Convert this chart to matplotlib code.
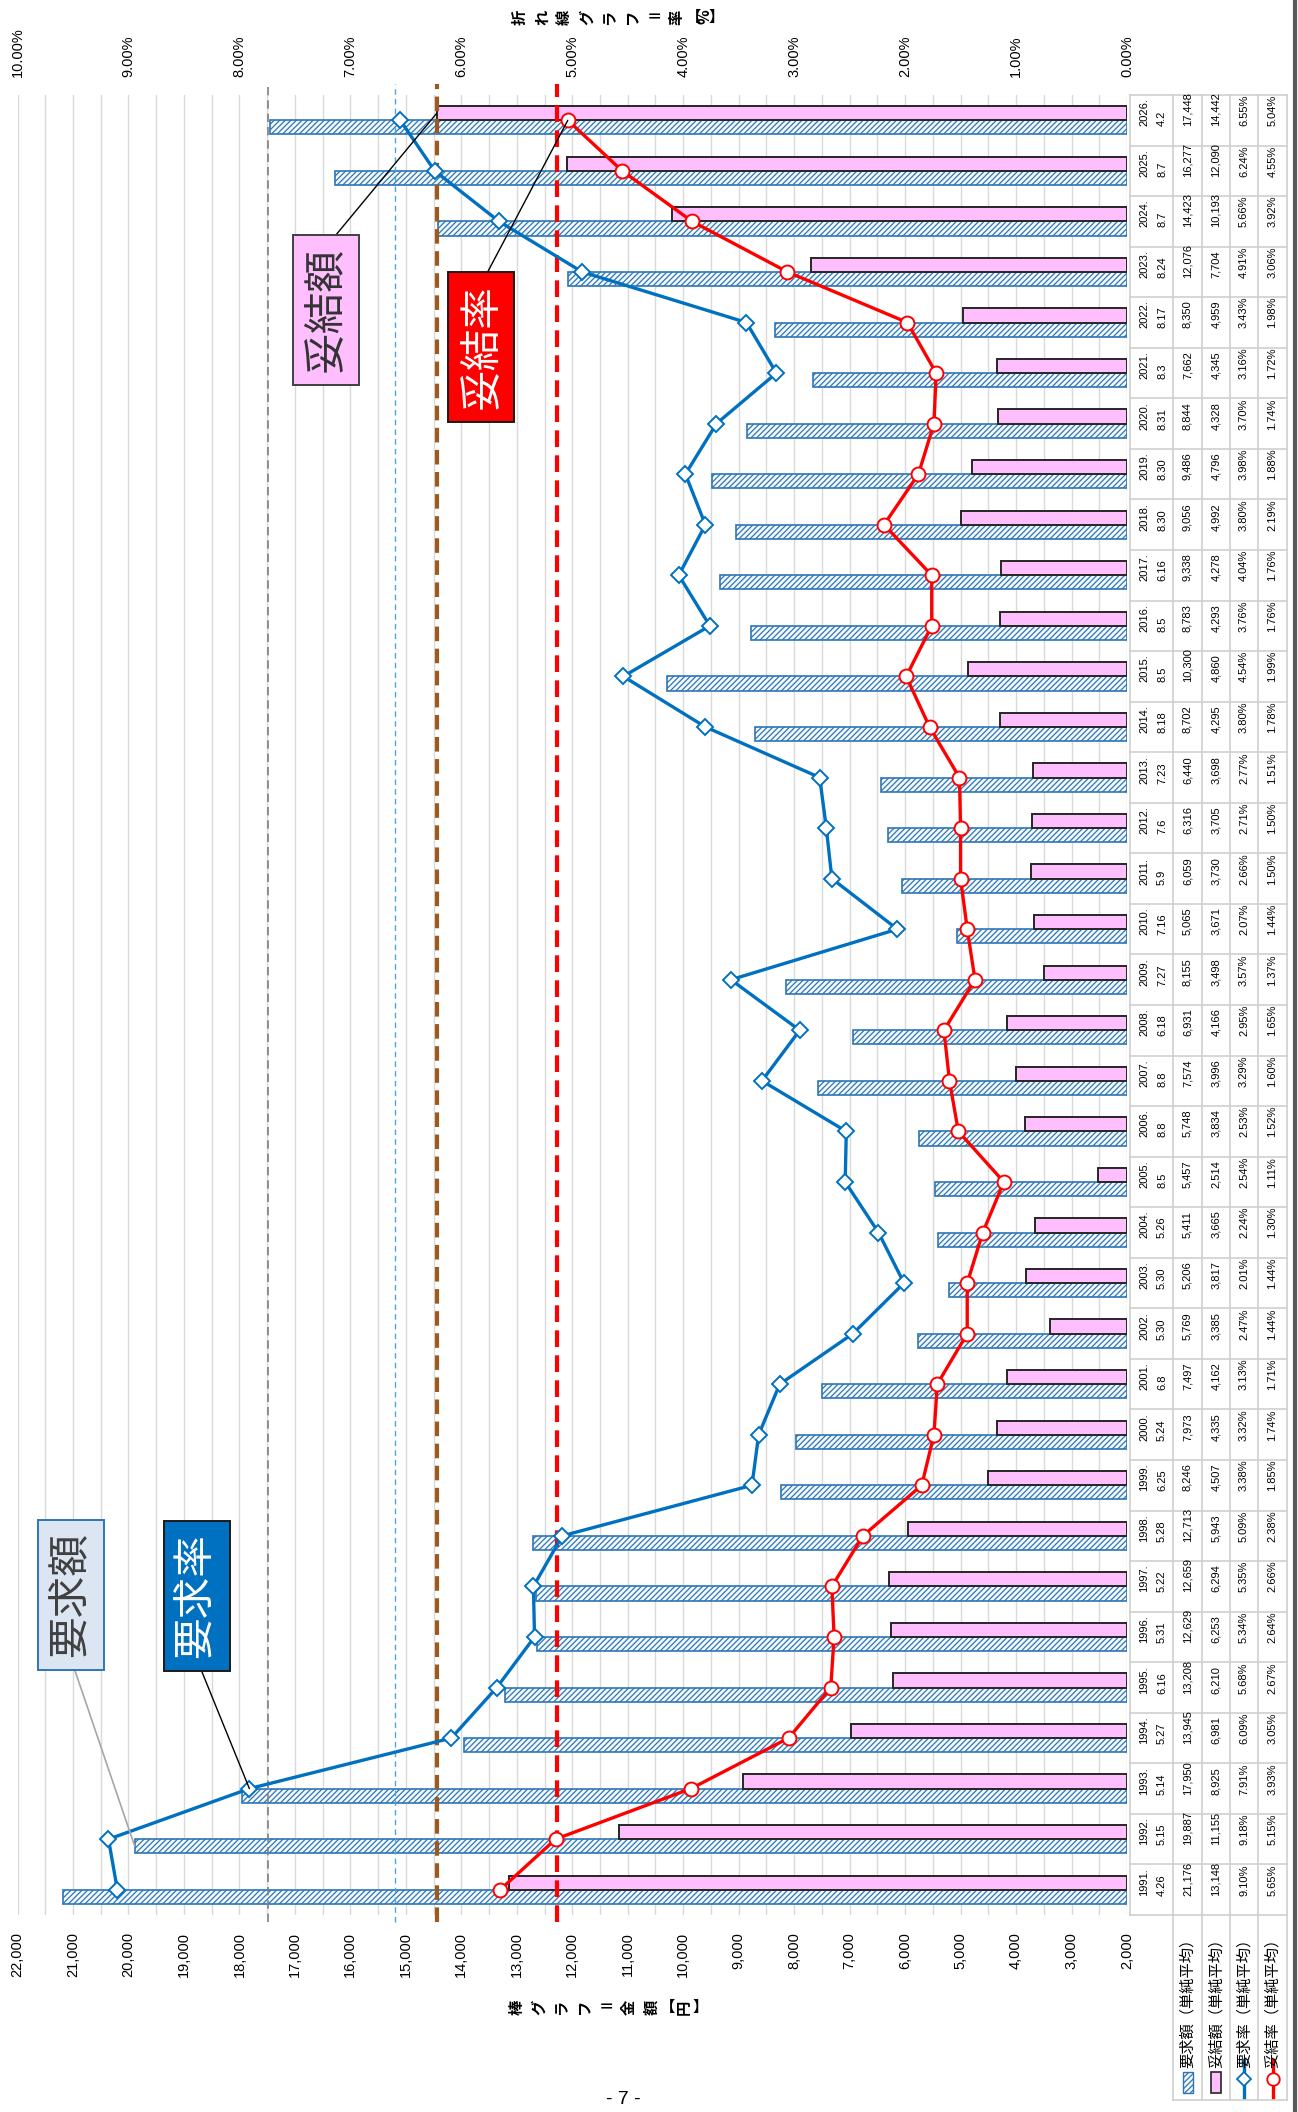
import numpy as np
import matplotlib
matplotlib.use("Agg")
import matplotlib.pyplot as plt
from matplotlib.patches import Rectangle

# ---- データ（1991〜2026年）----
YEARS = list(range(1991, 2027))
DATES = ["4.26", "5.15", "5.14", "5.27", "6.16", "5.31", "5.22", "5.28", "6.25", "5.24",
         "6.8", "5.30", "5.30", "5.26", "8.5", "8.8", "8.8", "6.18", "7.27", "7.16",
         "5.9", "7.6", "7.23", "8.18", "8.5", "8.5", "6.16", "8.30", "8.30", "8.31",
         "8.3", "8.17", "8.24", "8.7", "8.7", "4.2"]
REQ_AMT = [21176, 19887, 17950, 13945, 13208, 12629, 12659, 12713, 8246, 7973,
           7497, 5769, 5206, 5411, 5457, 5748, 7574, 6931, 8155, 5065,
           6059, 6316, 6440, 8702, 10300, 8783, 9338, 9056, 9486, 8844,
           7662, 8350, 12076, 14423, 16277, 17448]
SET_AMT = [13148, 11155, 8925, 6981, 6210, 6253, 6294, 5943, 4507, 4335,
           4162, 3385, 3817, 3665, 2514, 3834, 3996, 4166, 3498, 3671,
           3730, 3705, 3698, 4295, 4860, 4293, 4278, 4992, 4796, 4328,
           4345, 4959, 7704, 10193, 12090, 14442]
REQ_RATE = [9.10, 9.18, 7.91, 6.09, 5.68, 5.34, 5.35, 5.09, 3.38, 3.32,
            3.13, 2.47, 2.01, 2.24, 2.54, 2.53, 3.29, 2.95, 3.57, 2.07,
            2.66, 2.71, 2.77, 3.80, 4.54, 3.76, 4.04, 3.80, 3.98, 3.70,
            3.16, 3.43, 4.91, 5.66, 6.24, 6.55]
SET_RATE = [5.65, 5.15, 3.93, 3.05, 2.67, 2.64, 2.66, 2.38, 1.85, 1.74,
            1.71, 1.44, 1.44, 1.30, 1.11, 1.52, 1.60, 1.65, 1.37, 1.44,
            1.50, 1.50, 1.51, 1.78, 1.99, 1.76, 1.76, 2.19, 1.88, 1.74,
            1.72, 1.98, 3.06, 3.92, 4.55, 5.04]

LEGEND_NAMES = ["要求額（単純平均）", "妥結額（単純平均）", "要求率（単純平均）", "妥結率（単純平均）"]

AMT_MIN, AMT_MAX = 2000, 22000
RATE_MIN, RATE_MAX = 0, 10
YEN_TICKS = list(range(AMT_MIN, AMT_MAX + 1, 1000))
YEN_LABELS = [f"{v:,}" for v in YEN_TICKS]
PCT_TICKS = list(range(RATE_MIN, RATE_MAX + 1))
PCT_LABELS = [f"{v:.2f}%" for v in PCT_TICKS]

# 目安の破線
REF_REQ_AMT = 17490
REF_SET_AMT = 14442
REF_REQ_RATE = 6.60
REF_SET_RATE = 5.14

# ---- レイアウト ----
plt.rcParams["font.family"] = ["Liberation Sans", "Noto Sans CJK JP", "DejaVu Sans"]
plt.rcParams["hatch.linewidth"] = 0.9

W, H = 1298, 2112
PL, PR, PT, PB = 17.5, 1127, 95, 1915
JP = ["Noto Sans CJK JP", "DejaVu Sans"]
BLUE = "#0070c0"
HATCH_BLUE = "#2e75b6"
PINK = "#ffbfff"
RED = "#ff0000"
GRID = "#d9d9d9"

fig = plt.figure(figsize=(W / 100, H / 100), dpi=100)
ax = fig.add_axes([PL / W, 1 - PB / H, (PR - PL) / W, (PB - PT) / H])

n = len(YEARS)
idx = np.arange(n)
bw = 0.28

# 棒グラフ（金額）
ax.barh(idx - bw / 2, np.array(REQ_AMT) - AMT_MIN, left=AMT_MIN, height=bw,
        color="#f4f9fd", edgecolor=HATCH_BLUE, hatch="//////", lw=1.2, zorder=2)
ax.barh(idx + bw / 2, np.array(SET_AMT) - AMT_MIN, left=AMT_MIN, height=bw,
        color=PINK, edgecolor="#262626", lw=1.4, zorder=2)

ax.set_xlim(AMT_MAX, AMT_MIN)
ax.set_ylim(-0.5, n - 0.5)
ax.set_xticks(YEN_TICKS)
ax.set_xticklabels(YEN_LABELS, rotation=90)
ax.set_xticks(np.arange(AMT_MIN, AMT_MAX + 1, 500), minor=True)
ax.set_yticks([])
ax.grid(axis="x", which="both", color=GRID, lw=1)
ax.set_axisbelow(True)
ax.tick_params(axis="x", which="both", length=0, pad=12, labelsize=10.5)
for s in ax.spines.values():
    s.set_visible(False)

ax.axvline(REF_REQ_AMT, ymin=-0.004, ymax=1.006, clip_on=False,
           color="#808080", lw=1.2, dashes=(5, 3), zorder=3)
ax.axvline(REF_SET_AMT, ymin=-0.004, ymax=1.006, clip_on=False,
           color="#9c5a1c", lw=3, dashes=(3.5, 1.8), zorder=3)

# 折れ線グラフ（率）
ax2 = ax.twiny()
ax2.set_xlim(RATE_MAX, RATE_MIN)
ax2.set_xticks(PCT_TICKS)
ax2.set_xticklabels(PCT_LABELS, rotation=90)
ax2.tick_params(axis="x", length=0, pad=13, labelsize=10.5)
for s in ax2.spines.values():
    s.set_visible(False)

ax2.axvline(REF_REQ_RATE, ymin=-0.004, ymax=1.006, clip_on=False,
            color="#4aa8d8", lw=1, dashes=(4, 3), zorder=3)
ax2.axvline(REF_SET_RATE, ymin=-0.004, ymax=1.006, clip_on=False,
            color=RED, lw=3, dashes=(4, 2), zorder=3)
ax2.plot(REQ_RATE, idx, color=BLUE, lw=2.4, marker="D", ms=8,
         mfc="white", mec=BLUE, mew=1.4, zorder=5)
ax2.plot(SET_RATE, idx, color=RED, lw=2.4, marker="o", ms=10,
         mfc="white", mec=RED, mew=1.4, zorder=6)

# ---- 全体用の座標（ピクセル） ----
ov = fig.add_axes([0, 0, 1, 1])
ov.set_xlim(0, W)
ov.set_ylim(H, 0)
ov.axis("off")

# 吹き出しラベル
def callout(text, xy, xycoords, pos, fc, ec, tc, lc, lw_line, relpos):
    ax2.annotate(text, xy=xy, xycoords=xycoords, xytext=pos, textcoords=ov.transData,
                 rotation=90, ha="center", va="center", fontsize=30, color=tc,
                 family=JP, zorder=10,
                 bbox=dict(boxstyle="square,pad=0.3", fc=fc, ec=ec, lw=1.4),
                 arrowprops=dict(arrowstyle="-", color=lc, lw=lw_line,
                                 shrinkA=0, shrinkB=0, relpos=relpos))

callout("要求額", (REQ_AMT[1], idx[1] - bw / 2), ax.transData, (70.5, 1595),
        "#dce6f2", HATCH_BLUE, "#404040", "#a6a6a6", 1.2, (0.5, 0))
callout("要求率", (REQ_RATE[2], idx[2]), ax2.transData, (196.5, 1596),
        BLUE, "#1a1a1a", "white", "black", 1.0, (0.5, 0))
callout("妥結額", (SET_AMT[-1], idx[-1] + bw / 2), ax.transData, (325.5, 310),
        PINK, "#404040", "#333333", "black", 1.0, (0.5, 1))
callout("妥結率", (SET_RATE[-1], idx[-1]), ax2.transData, (481, 347),
        RED, "#1a1a1a", "white", "black", 1.0, (0.5, 1))

# 軸タイトル（1文字ずつ回転）
def char_title(chars, x0, y, fs):
    x = x0
    for ch in chars:
        w = 10 if ch in "【】" else (13 if ch == "%" else 22.5)
        rot = 0 if ch in "【】＝" else 90
        ov.text(x + w / 2, y, ch, rotation=rot, ha="center", va="center",
                fontsize=fs, fontweight="bold", family=JP)
        x += w

char_title("折れ線グラフ＝率【%】", 508, 17, 11)
char_title("棒グラフ＝金額【円】", 505, 2007, 11)

# データテーブル
COL_X = [1130, 1173, 1202, 1230, 1258, 1287]
LEG_BOTTOM = 2100
row_h = (PB - PT) / n
for r in range(n + 1):
    y = PT + r * row_h
    ov.plot([COL_X[0], COL_X[-1]], [y, y], color="#cfcfcf", lw=1.2)
for x in COL_X:
    ov.plot([x, x], [PT, PB], color="#cfcfcf", lw=1.2)
for x in COL_X[1:]:
    ov.plot([x, x], [PB, LEG_BOTTOM], color="#cfcfcf", lw=1.2)
ov.plot([COL_X[1], COL_X[-1]], [LEG_BOTTOM, LEG_BOTTOM], color="#cfcfcf", lw=1.2)

centers = [(COL_X[k] + COL_X[k + 1]) / 2 for k in range(1, 5)]
for i in range(n):
    ys = PB - (i + 0.5) * row_h + 6
    cells = [f"{REQ_AMT[i]:,}", f"{SET_AMT[i]:,}", f"{REQ_RATE[i]:.2f}%", f"{SET_RATE[i]:.2f}%"]
    ov.text(1144, ys, f"{YEARS[i]}.", rotation=90, rotation_mode="anchor",
            ha="left", va="center", fontsize=8)
    ov.text(1162, ys, DATES[i], rotation=90, rotation_mode="anchor",
            ha="left", va="center", fontsize=8)
    for cx, s in zip(centers, cells):
        ov.text(cx, ys, s, rotation=90, rotation_mode="anchor",
                ha="left", va="center", fontsize=8)

# 凡例
for cx, name in zip(centers, LEGEND_NAMES):
    ov.text(cx, 2068, name, rotation=90, rotation_mode="anchor", ha="left",
            va="center", fontsize=11, family=JP)
ov.add_patch(Rectangle((centers[0] - 5, 2072), 10, 21, facecolor="#f4f9fd",
                       edgecolor=HATCH_BLUE, hatch="//////", lw=1))
ov.add_patch(Rectangle((centers[1] - 5, 2072), 10, 21, facecolor=PINK,
                       edgecolor="#262626", lw=1.2))
ov.plot([centers[2], centers[2]], [2060, 2097], color=BLUE, lw=2.4)
ov.plot([centers[2]], [2079], marker="D", ms=7, mfc="white", mec=BLUE, mew=1.3)
ov.plot([centers[3], centers[3]], [2060, 2097], color=RED, lw=2.4)
ov.plot([centers[3]], [2079], marker="o", ms=9, mfc="white", mec=RED, mew=1.3)

# 右端の枠線とページ番号
ov.plot([1295, 1295], [0, H], color="#595959", lw=3)
ov.text(623, 2100, "- 7 -", ha="center", va="center", fontsize=14)

fig.savefig("out.png", dpi=100)
